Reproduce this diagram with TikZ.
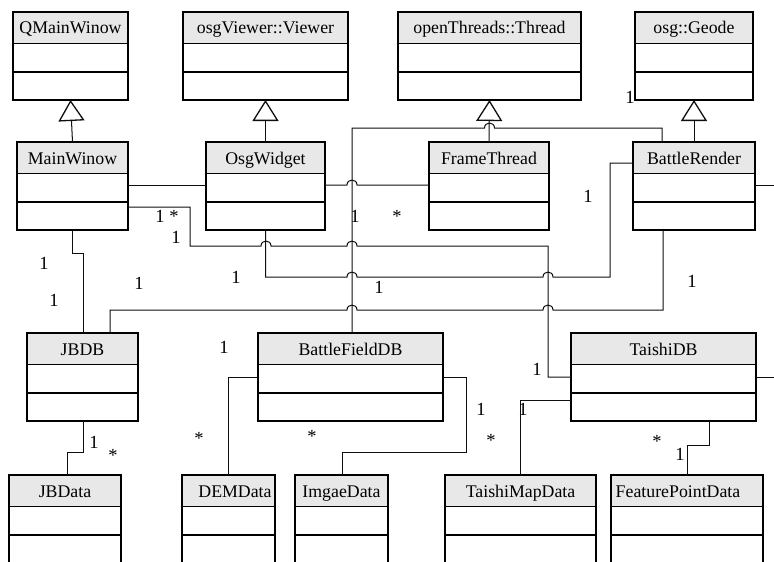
\documentclass[tikz,border=0pt]{standalone}
\usepackage{fontspec}
\setmainfont{Liberation Serif}
\usetikzlibrary{arrows.meta,calc}

\definecolor{headfill}{RGB}{232,232,232}
\definecolor{wire}{RGB}{15,15,15}

\tikzset{
  classbox/.style={draw=black, line width=1.4pt, inner sep=0pt, outer sep=0pt,
    minimum height=88pt, anchor=north west,
    path picture={
      \fill[headfill] (path picture bounding box.north west)
        rectangle ([yshift=-31.5pt]path picture bounding box.north east);
      \draw[line width=1.4pt] ([yshift=-31.5pt]path picture bounding box.north west)
        -- ([yshift=-31.5pt]path picture bounding box.north east);
      \draw[line width=1.4pt] ([yshift=-60pt]path picture bounding box.north west)
        -- ([yshift=-60pt]path picture bounding box.north east);
    }},
  ctitle/.style={anchor=base, inner sep=0pt, font=\fontsize{17.8}{20}\selectfont},
  mult/.style={anchor=base, inner sep=0pt, font=\fontsize{18.5}{20}\selectfont},
  assoc/.style={draw=wire, line width=1pt},
  inherit/.style={assoc, -{Triangle[open, length=21pt, width=26pt, line width=1.3pt]}},
}

% a small bump where a horizontal wire passes over a vertical one
\newcommand\hopover[2]{-- ({#1-5},#2) .. controls ({#1-5},{#2-6.6}) and ({#1+5},{#2-6.6}) .. ({#1+5},#2)}

% class box: name, left, top, right, title, x of title centre
\newcommand\umlclass[6]{%
  \pgfmathsetmacro\boxw{#4-#2}%
  \node[classbox, minimum width=\boxw pt] (#1) at (#2,#3) {};
  \node[ctitle] (#1-title) at (#6,{#3+22}) {#5};
}

\begin{document}
\begin{tikzpicture}[x=1pt,y=-1pt]
\useasboundingbox (0,0) rectangle (774,562);
\fill[white] (0,0) rectangle (774,562);
\clip (0,0) rectangle (774,562);

% base classes
\umlclass{qmw}{13}{12}{128}{QMainWinow}{70.5}
\umlclass{viewer}{183}{12}{348}{osgViewer::Viewer}{265.5}
\umlclass{thread}{398}{12}{581}{openThreads::Thread}{489.5}
\umlclass{geode}{635}{12}{753}{osg::Geode}{694}

% application classes
\umlclass{mw}{17}{142}{128}{MainWinow}{72.5}
\umlclass{ow}{206}{142}{325}{OsgWidget}{265.5}
\umlclass{ft}{429}{142}{549}{FrameThread}{489}
\umlclass{br}{633}{142}{755}{BattleRender}{694}

% databases
\umlclass{jbdb}{27}{333}{138}{JBDB}{82.5}
\umlclass{bfdb}{258}{333}{443}{BattleFieldDB}{350.5}
\umlclass{tdb}{571}{333}{756}{TaishiDB}{663.5}

% data classes
\umlclass{jbdata}{9}{475}{121}{JBData}{65}
\umlclass{dem}{182}{475}{275}{DEMData}{235}
\umlclass{img}{295}{475}{388}{ImgaeData}{341.5}
\umlclass{tmap}{445}{475}{596}{TaishiMapData}{520.5}
\umlclass{fpd}{611}{475}{763}{FeaturePointData}{678}

% free ends leaving on the right
\coordinate (brout) at (780,185);
\coordinate (tdbout) at (780,377);

% generalisations
\draw[inherit] (mw.north) -- (qmw.south);
\draw[inherit] (ow.north) -- (viewer.south);
\draw[inherit] (ft.north) -- (thread.south);
\draw[inherit] (br.north) -- (geode.south);

% associations
\draw[assoc] (mw.east |- 0,185) -- (ow.west |- 0,185);
\draw[assoc] (ow.east |- 0,185) \hopover{352}{185} -- (ft.west |- 0,185);
\draw[assoc] (mw.east |- 0,207) -- (190,207) -- (190,246) \hopover{266}{246}
  \hopover{352}{246} -- (548,246) -- (548,377) -- (tdb.west |- 0,377);
\draw[assoc] (ow.south) -- (265.5,277) \hopover{352}{277} \hopover{548}{277}
  -- (610,277) -- (610,163) -- (br.west |- 0,163);
\draw[assoc] (jbdb.north -| 110,0) -- (110,310) \hopover{352}{310} \hopover{548}{310}
  -- (663,310) -- (br.south -| 663,0);
\draw[assoc] (bfdb.north -| 352,0) -- (352,128) \hopover{489.5}{128} -- (662,128)
  -- (br.north -| 662,0);
\draw[assoc] (mw.south) -- (72.5,253) -- (83,253) -- (jbdb.north -| 83,0);
\draw[assoc] (br.east |- 0,185) -- (brout);
\draw[assoc] (tdb.east |- 0,377) -- (tdbout);
\draw[assoc] (bfdb.west |- 0,377) -- (228,377) -- (dem.north -| 228,0);
\draw[assoc] (bfdb.east |- 0,377) -- (466,377) -- (466,452) -- (342,452)
  -- (img.north -| 342,0);
\draw[assoc] (tdb.west |- 0,400) -- (520,400) -- (tmap.north -| 520,0);
\draw[assoc] (tdb.south -| 709,0) -- (709,445) -- (687,445) -- (fpd.north -| 687,0);
\draw[assoc] (jbdb.south -| 83,0) -- (83,452) -- (67,452) -- (jbdata.north -| 67,0);

% multiplicities
\node[mult] (m1) at (630,103) {1};
\node[mult] (m2) at (355,222) {1};
\node[mult] (m3) at (397,222) {*};
\node[mult] (m4) at (160,222) {1};
\node[mult] (m5) at (174,222) {*};
\node[mult] (m6) at (176,243) {1};
\node[mult] (m7) at (44,269) {1};
\node[mult] (m8) at (54,306) {1};
\node[mult] (m9) at (139,289) {1};
\node[mult] (m10) at (236,283) {1};
\node[mult] (m11) at (379,293) {1};
\node[mult] (m12) at (588,202) {1};
\node[mult] (m13) at (692,287) {1};
\node[mult] (m14) at (224,353) {1};
\node[mult] (m15) at (199,444) {*};
\node[mult] (m16) at (312,442) {*};
\node[mult] (m17) at (94,448) {1};
\node[mult] (m18) at (113,461) {*};
\node[mult] (m19) at (537,375) {1};
\node[mult] (m20) at (481,415) {1};
\node[mult] (m21) at (491,446) {*};
\node[mult] (m22) at (523,415) {1};
\node[mult] (m23) at (657,447) {*};
\node[mult] (m24) at (680,460) {1};
\node[mult] (m25) at (779,158) {1};
\end{tikzpicture}
\end{document}
